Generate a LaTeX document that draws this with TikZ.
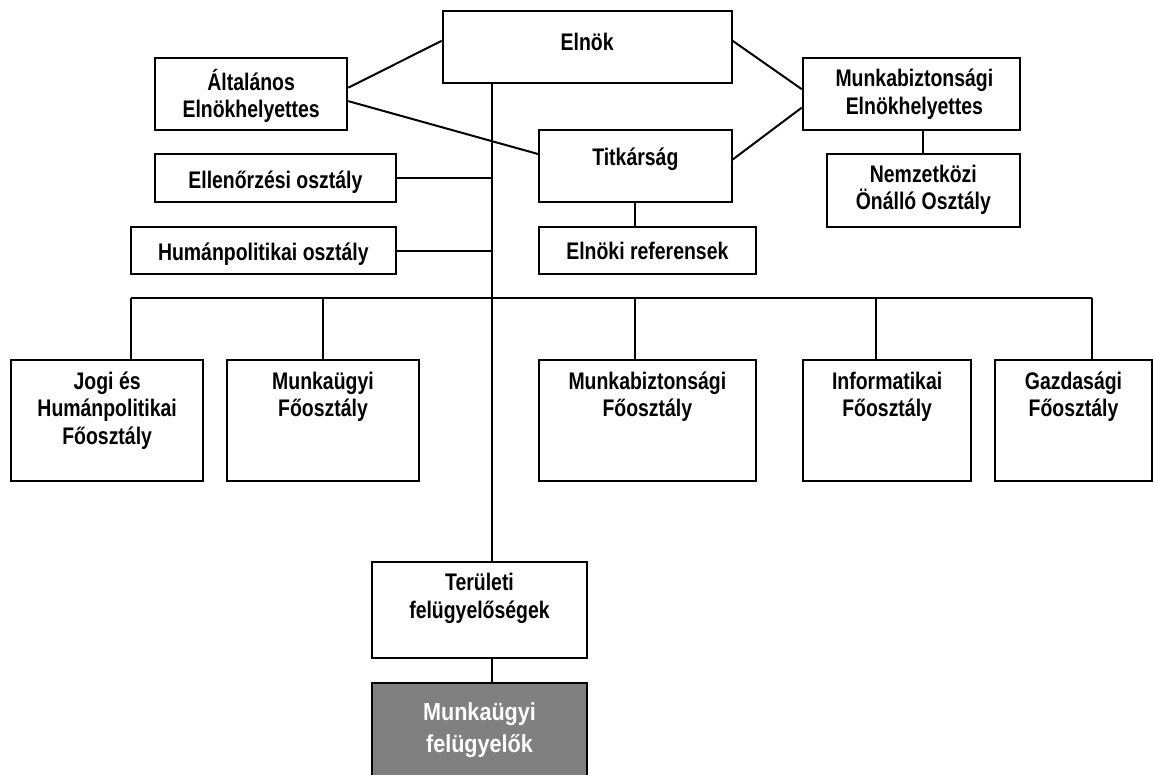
\documentclass[tikz,border=0pt]{standalone}
\usepackage{fontspec}
\setmainfont{Liberation Sans}[FakeStretch=0.81]
\newfontfamily\widefont{Liberation Sans}[FakeStretch=0.875]
\begin{document}
\begin{tikzpicture}[x=1pt, y=-1pt,
  box/.style={draw, line width=2pt, inner sep=0pt, rectangle, fill=white},
  lbl/.style={anchor=north, inner sep=0pt, align=center,
    font=\fontsize{24}{27.5}\selectfont\bfseries,
    execute at begin node=\rule{0pt}{24pt}},
  conn/.style={line width=2pt}]
\clip (0,0) rectangle (1155,774);
\coordinate (tr) at (491.5,0);
\node[box, minimum width=289, minimum height=71.7] (elnok) at (587.2,46.85) {};
\node[box, minimum width=192.3, minimum height=71.7] (altalanos) at (251.15,94.15) {};
\node[box, minimum width=217.3, minimum height=71.7] (meh) at (911.35,94.15) {};
\node[box, minimum width=192.7, minimum height=72] (titkarsag) at (635.35,166) {};
\node[box, minimum width=240.7, minimum height=48] (ellenorzesi) at (275.35,178.3) {};
\node[box, minimum width=193.3, minimum height=72.7] (nemzetkozi) at (923.35,190.35) {};
\node[box, minimum width=264.7, minimum height=47.6] (humanpol) at (263.35,250.5) {};
\node[box, minimum width=216.7, minimum height=47.6] (referensek) at (647.35,250.5) {};
\node[box, minimum width=192.3, minimum height=120.7] (jogi) at (107.15,420.35) {};
\node[box, minimum width=192.6, minimum height=120.7] (munkaugyi) at (323,420.35) {};
\node[box, minimum width=216.7, minimum height=120.7] (munkabizt) at (647.35,420.35) {};
\node[box, minimum width=167.7, minimum height=120.7] (informatikai) at (887.15,420.35) {};
\node[box, minimum width=157, minimum height=120.7] (gazdasagi) at (1073.5,420.35) {};
\node[box, minimum width=215.6, minimum height=96] (teruleti) at (479.5,610.3) {};
\node[box, minimum width=215.6, minimum height=100, fill=black!50] (felugyelok) at (479.5,732.7) {};

\node[lbl] (elnok-t) at ([yshift=-16pt]elnok.north) {Elnök};
\node[lbl] (altalanos-t) at ([yshift=-11.4pt]altalanos.north) {Általános\\Elnökhelyettes};
\node[lbl] (meh-t) at ([xshift=3pt, yshift=-11.4pt]meh.north) {Munkabiztonsági\\Elnökhelyettes};
\node[lbl] (titkarsag-t) at ([yshift=-12pt]titkarsag.north) {Titkárság};
\node[lbl] (ellenorzesi-t) at ([yshift=-11pt]ellenorzesi.north) {Ellenőrzési osztály};
\node[lbl] (nemzetkozi-t) at ([yshift=-11.7pt]nemzetkozi.north) {Nemzetközi\\Önálló Osztály};
\node[lbl] (humanpol-t) at ([yshift=-10.3pt]humanpol.north) {Humánpolitikai osztály};
\node[lbl] (referensek-t) at ([yshift=-9.6pt]referensek.north) {Elnöki referensek};
\node[lbl] (jogi-t) at ([yshift=-12.5pt]jogi.north) {Jogi és\\Humánpolitikai\\Főosztály};
\node[lbl] (munkaugyi-t) at ([yshift=-12.5pt]munkaugyi.north) {Munkaügyi\\Főosztály};
\node[lbl] (munkabizt-t) at ([yshift=-12.5pt]munkabizt.north) {Munkabiztonsági\\Főosztály};
\node[lbl] (informatikai-t) at ([yshift=-12.5pt]informatikai.north) {Informatikai\\Főosztály};
\node[lbl] (gazdasagi-t) at ([yshift=-12.5pt]gazdasagi.north) {Gazdasági\\Főosztály};
\node[lbl] (teruleti-t) at ([yshift=-11.7pt]teruleti.north) {Területi\\felügyelőségek};
\node[lbl, text=white, font=\widefont\fontsize{24.7}{31.7}\selectfont\bfseries] (felugyelok-t)
  at ([yshift=-21pt]felugyelok.north) {Munkaügyi\\felügyelők};

\draw[conn] ([yshift=6pt]elnok.west) -- ([yshift=6.5pt]altalanos.east);
\draw[conn] ([yshift=-7pt]altalanos.east) -- ([yshift=12pt]titkarsag.west);
\draw[conn] ([yshift=6pt]elnok.east) -- ([yshift=5pt]meh.west);
\draw[conn] ([yshift=6.5pt]titkarsag.east) -- ([yshift=-13.5pt]meh.west);
\draw[conn] (nemzetkozi.north) -- (meh.south -| nemzetkozi.north);
\draw[conn] (titkarsag.south) -- (referensek.north -| titkarsag.south);
\draw[conn] (elnok.south -| tr) -- (teruleti.north -| tr);
\draw[conn] (teruleti.south -| tr) -- (felugyelok.north -| tr);
\draw[conn] (ellenorzesi.east) -- (ellenorzesi.east -| tr);
\draw[conn] (humanpol.east) -- (humanpol.east -| tr);

\coordinate (d1) at (131,297.7);
\coordinate (d2) at (323.3,297.7);
\coordinate (d3) at (635.3,297.7);
\coordinate (d4) at (875.7,297.7);
\coordinate (d5) at (1091.7,297.7);
\draw[conn] (d1) -- (d5);
\draw[conn] (d1) -- (d1 |- jogi.north);
\draw[conn] (d2) -- (d2 |- munkaugyi.north);
\draw[conn] (d3) -- (d3 |- munkabizt.north);
\draw[conn] (d4) -- (d4 |- informatikai.north);
\draw[conn] (d5) -- (d5 |- gazdasagi.north);
\end{tikzpicture}
\end{document}
